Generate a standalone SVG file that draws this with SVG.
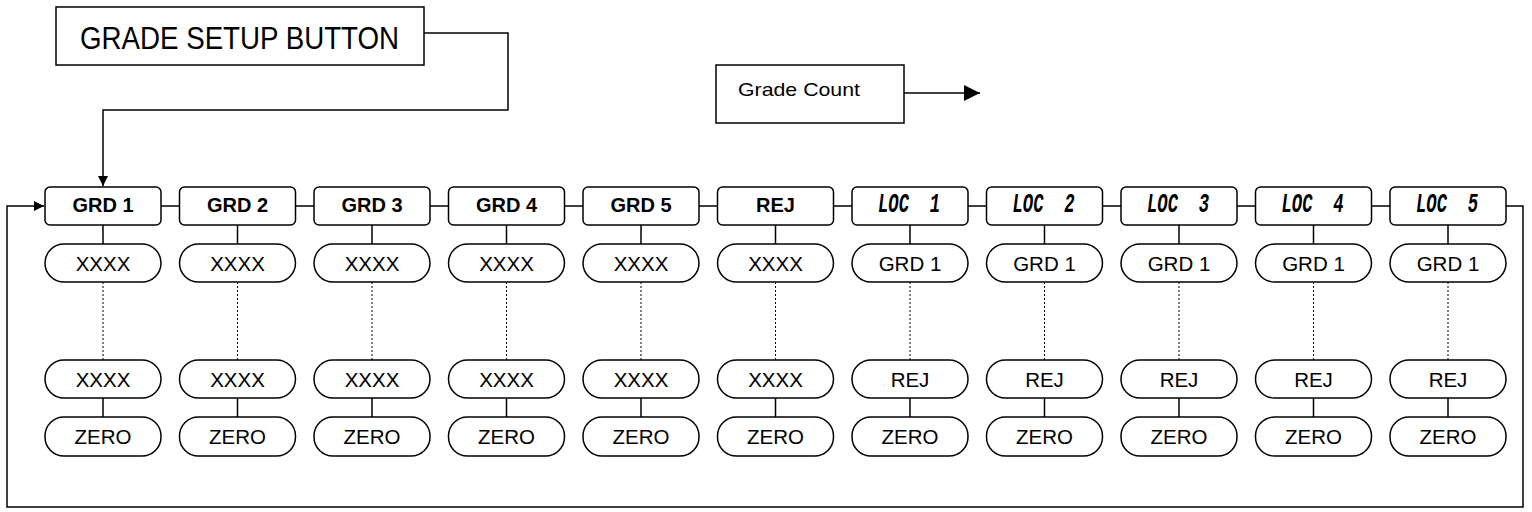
<svg xmlns="http://www.w3.org/2000/svg" width="1532" height="512" viewBox="0 0 1532 512">
<style>
.box{fill:#fff;stroke:#000;stroke-width:1.5}
.pill{fill:#fff;stroke:#000;stroke-width:1.5}
.ln{fill:none;stroke:#000;stroke-width:1.5}
.dot{fill:none;stroke:#000;stroke-width:1;stroke-dasharray:2 2}
.bt{font-family:"Liberation Sans",Arial,sans-serif;font-weight:bold;font-size:20px;text-anchor:middle}
.pt{font-family:"Liberation Sans",Arial,sans-serif;font-size:20.5px;text-anchor:middle}
.lc{font-family:"Liberation Mono","DejaVu Sans Mono",monospace;font-style:italic;font-weight:bold;font-size:27px;white-space:pre}
</style>
<defs>
<marker id="ah" viewBox="0 0 10 10" refX="10" refY="5" markerWidth="14" markerHeight="10" markerUnits="userSpaceOnUse" orient="auto"><path d="M0,0L10,5L0,10z" fill="#000"/></marker>
<marker id="ah2" viewBox="0 0 10 10" refX="10" refY="5" markerWidth="22" markerHeight="16" markerUnits="userSpaceOnUse" orient="auto"><path d="M0,0L10,5L0,10z" fill="#000"/></marker>
</defs>
<g id="connectors">
<polyline class="ln" points="424,33 508,33 508,110 103,110 103,186" marker-end="url(#ah)"/>
<line class="ln" x1="904" y1="93" x2="980" y2="93" marker-end="url(#ah2)"/>
<polyline class="ln" points="1506,206 1523,206 1523,507 7,507 7,206 44,206" marker-end="url(#ah)"/>
<path class="ln" d="M161,206H179.5M295.5,206H314M430,206H448.5M564.5,206H583M699,206H717.5M833.5,206H852M968,206H986.5M1102.5,206H1121M1237,206H1255.5M1371.5,206H1390"/>
<path class="ln" d="M103,225V244M103,398V417M237.5,225V244M237.5,398V417M372,225V244M372,398V417M506.5,225V244M506.5,398V417M641,225V244M641,398V417M775.5,225V244M775.5,398V417M910,225V244M910,398V417M1044.5,225V244M1044.5,398V417M1179,225V244M1179,398V417M1313.5,225V244M1313.5,398V417M1448,225V244M1448,398V417"/>
<path class="dot" d="M103,282V360M237.5,282V360M372,282V360M506.5,282V360M641,282V360M775.5,282V360M910,282V360M1044.5,282V360M1179,282V360M1313.5,282V360M1448,282V360"/>
</g>
<g id="grade-setup-button">
<rect x="56" y="7" width="368" height="58" fill="#fff" stroke="#000" stroke-width="1.5"/>
<text x="80" y="49" font-family="Liberation Sans,Arial,sans-serif" font-size="31" textLength="319" lengthAdjust="spacingAndGlyphs">GRADE SETUP BUTTON</text>
</g>
<g id="grade-count">
<rect x="716" y="65" width="188" height="58" fill="#fff" stroke="#000" stroke-width="1.5"/>
<text x="738" y="96" font-family="Liberation Sans,Arial,sans-serif" font-size="19" textLength="122" lengthAdjust="spacingAndGlyphs">Grade Count</text>
</g>
<g id="col-grd1"><rect class="box" x="45" y="187" width="116" height="38" rx="5"/><text class="bt" x="103" y="211.5">GRD 1</text>
<rect class="pill" x="45" y="244" width="116" height="38" rx="19"/><text class="pt" x="103" y="270.5">XXXX</text>
<rect class="pill" x="45" y="360" width="116" height="38" rx="19"/><text class="pt" x="103" y="386.5">XXXX</text>
<rect class="pill" x="45" y="417" width="116" height="39" rx="19"/><text class="pt" x="103" y="444">ZERO</text></g>
<g id="col-grd2"><rect class="box" x="179.5" y="187" width="116" height="38" rx="5"/><text class="bt" x="237.5" y="211.5">GRD 2</text>
<rect class="pill" x="179.5" y="244" width="116" height="38" rx="19"/><text class="pt" x="237.5" y="270.5">XXXX</text>
<rect class="pill" x="179.5" y="360" width="116" height="38" rx="19"/><text class="pt" x="237.5" y="386.5">XXXX</text>
<rect class="pill" x="179.5" y="417" width="116" height="39" rx="19"/><text class="pt" x="237.5" y="444">ZERO</text></g>
<g id="col-grd3"><rect class="box" x="314" y="187" width="116" height="38" rx="5"/><text class="bt" x="372" y="211.5">GRD 3</text>
<rect class="pill" x="314" y="244" width="116" height="38" rx="19"/><text class="pt" x="372" y="270.5">XXXX</text>
<rect class="pill" x="314" y="360" width="116" height="38" rx="19"/><text class="pt" x="372" y="386.5">XXXX</text>
<rect class="pill" x="314" y="417" width="116" height="39" rx="19"/><text class="pt" x="372" y="444">ZERO</text></g>
<g id="col-grd4"><rect class="box" x="448.5" y="187" width="116" height="38" rx="5"/><text class="bt" x="506.5" y="211.5">GRD 4</text>
<rect class="pill" x="448.5" y="244" width="116" height="38" rx="19"/><text class="pt" x="506.5" y="270.5">XXXX</text>
<rect class="pill" x="448.5" y="360" width="116" height="38" rx="19"/><text class="pt" x="506.5" y="386.5">XXXX</text>
<rect class="pill" x="448.5" y="417" width="116" height="39" rx="19"/><text class="pt" x="506.5" y="444">ZERO</text></g>
<g id="col-grd5"><rect class="box" x="583" y="187" width="116" height="38" rx="5"/><text class="bt" x="641" y="211.5">GRD 5</text>
<rect class="pill" x="583" y="244" width="116" height="38" rx="19"/><text class="pt" x="641" y="270.5">XXXX</text>
<rect class="pill" x="583" y="360" width="116" height="38" rx="19"/><text class="pt" x="641" y="386.5">XXXX</text>
<rect class="pill" x="583" y="417" width="116" height="39" rx="19"/><text class="pt" x="641" y="444">ZERO</text></g>
<g id="col-rej"><rect class="box" x="717.5" y="187" width="116" height="38" rx="5"/><text class="bt" x="775.5" y="211.5">REJ</text>
<rect class="pill" x="717.5" y="244" width="116" height="38" rx="19"/><text class="pt" x="775.5" y="270.5">XXXX</text>
<rect class="pill" x="717.5" y="360" width="116" height="38" rx="19"/><text class="pt" x="775.5" y="386.5">XXXX</text>
<rect class="pill" x="717.5" y="417" width="116" height="39" rx="19"/><text class="pt" x="775.5" y="444">ZERO</text></g>
<g id="col-loc1"><rect class="box" x="852" y="187" width="116" height="38" rx="5"/><text class="lc" x="878" y="212" textLength="62" lengthAdjust="spacingAndGlyphs">LOC  1</text>
<rect class="pill" x="852" y="244" width="116" height="38" rx="19"/><text class="pt" x="910" y="270.5">GRD 1</text>
<rect class="pill" x="852" y="360" width="116" height="38" rx="19"/><text class="pt" x="910" y="386.5">REJ</text>
<rect class="pill" x="852" y="417" width="116" height="39" rx="19"/><text class="pt" x="910" y="444">ZERO</text></g>
<g id="col-loc2"><rect class="box" x="986.5" y="187" width="116" height="38" rx="5"/><text class="lc" x="1012.5" y="212" textLength="62" lengthAdjust="spacingAndGlyphs">LOC  2</text>
<rect class="pill" x="986.5" y="244" width="116" height="38" rx="19"/><text class="pt" x="1044.5" y="270.5">GRD 1</text>
<rect class="pill" x="986.5" y="360" width="116" height="38" rx="19"/><text class="pt" x="1044.5" y="386.5">REJ</text>
<rect class="pill" x="986.5" y="417" width="116" height="39" rx="19"/><text class="pt" x="1044.5" y="444">ZERO</text></g>
<g id="col-loc3"><rect class="box" x="1121" y="187" width="116" height="38" rx="5"/><text class="lc" x="1147" y="212" textLength="62" lengthAdjust="spacingAndGlyphs">LOC  3</text>
<rect class="pill" x="1121" y="244" width="116" height="38" rx="19"/><text class="pt" x="1179" y="270.5">GRD 1</text>
<rect class="pill" x="1121" y="360" width="116" height="38" rx="19"/><text class="pt" x="1179" y="386.5">REJ</text>
<rect class="pill" x="1121" y="417" width="116" height="39" rx="19"/><text class="pt" x="1179" y="444">ZERO</text></g>
<g id="col-loc4"><rect class="box" x="1255.5" y="187" width="116" height="38" rx="5"/><text class="lc" x="1281.5" y="212" textLength="62" lengthAdjust="spacingAndGlyphs">LOC  4</text>
<rect class="pill" x="1255.5" y="244" width="116" height="38" rx="19"/><text class="pt" x="1313.5" y="270.5">GRD 1</text>
<rect class="pill" x="1255.5" y="360" width="116" height="38" rx="19"/><text class="pt" x="1313.5" y="386.5">REJ</text>
<rect class="pill" x="1255.5" y="417" width="116" height="39" rx="19"/><text class="pt" x="1313.5" y="444">ZERO</text></g>
<g id="col-loc5"><rect class="box" x="1390" y="187" width="116" height="38" rx="5"/><text class="lc" x="1416" y="212" textLength="62" lengthAdjust="spacingAndGlyphs">LOC  5</text>
<rect class="pill" x="1390" y="244" width="116" height="38" rx="19"/><text class="pt" x="1448" y="270.5">GRD 1</text>
<rect class="pill" x="1390" y="360" width="116" height="38" rx="19"/><text class="pt" x="1448" y="386.5">REJ</text>
<rect class="pill" x="1390" y="417" width="116" height="39" rx="19"/><text class="pt" x="1448" y="444">ZERO</text></g>
</svg>
